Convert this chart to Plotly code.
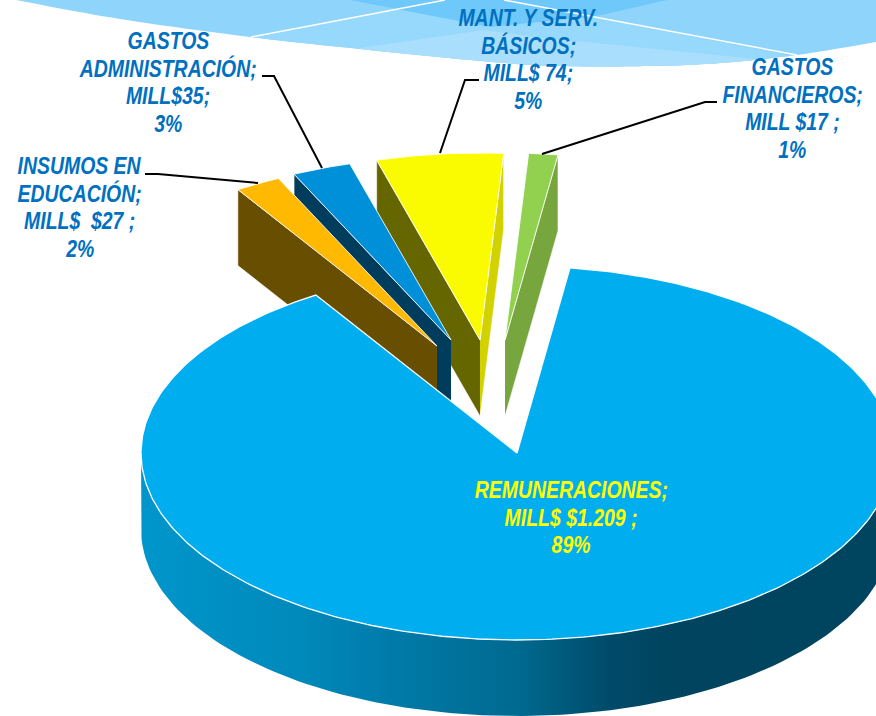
import numpy as np
import plotly.graph_objects as go

# ---------- data ----------
categories = ["REMUNERACIONES", "INSUMOS EN EDUCACIÓN", "GASTOS ADMINISTRACIÓN",
              "MANT. Y SERV. BÁSICOS", "GASTOS FINANCIEROS"]
values = [1209, 27, 35, 74, 17]
label_lines = [
    ["REMUNERACIONES;", "MILL$ $1.209 ;", "89%"],
    ["INSUMOS EN", "EDUCACIÓN;", "MILL$\u00a0 $27 ;", "2%"],
    ["GASTOS", "ADMINISTRACIÓN;", "MILL$35;", "3%"],
    ["MANT. Y SERV.", "BÁSICOS;", "MILL$ 74;", "5%"],
    ["GASTOS", "FINANCIEROS;", "MILL $17 ;", "1%"],
]

# ---------- geometry / style ----------
W, H = 876, 716
CX, CY, RX, RY, DEPTH = 517, 453, 376, 187, 76
START_DEG = 8.1
EXPLODE = [(0, 0), (-80, -107), (-66, -113), (-37, -113), (-12, -113)]
RADIAL = [1, 0.99, 0.98, 1, 1]
TOP = ["#00AEEF", "#FFB900", "#0090DA", "#FBFB00", "#92D050"]
SIDE_L = [None, "#674E00", "#003D5C", "#666600", "#77A63F"]
SIDE_R = [None, "#674E00", "#003D5C", "#D2D200", "#77A63F"]
WALL_SCALE = [[0, "#0096CB"], [0.21, "#0089BB"], [0.35, "#0079A6"], [0.5, "#006A90"],
              [0.62, "#004B6A"], [0.7, "#00445F"], [1, "#00455F"]]
LABEL_POS = [(571, 517), (79.5, 207), (168, 82), (528, 59), (792, 108)]
LABEL_COL = ["#FFFF00", "#0070C0", "#0070C0", "#0070C0", "#0070C0"]
LINE_STEP = 27.5
LEADERS = {1: [(145, 174), (158, 174), (258, 183)],
           2: [(262, 76), (274, 76), (322, 168)],
           3: [(479, 80), (465, 80), (440, 153)],
           4: [(717, 102), (705, 102), (542, 154)]}
FONT = "Liberation Sans, Arial, sans-serif"
TEXT_SQUEEZE = 0.81


def arc(cx, cy, a0, a1, n=120, k=1.0):
    t = np.radians(np.linspace(a0, a1, n))
    return cx + k * RX * np.sin(t), cy - k * RY * np.cos(t)


def smooth(pts, n=14):
    p = np.array([pts[0]] + pts + [pts[-1]], float)
    out = []
    for i in range(1, len(p) - 2):
        for s in np.linspace(0, 1, n, endpoint=False):
            out.append(0.5 * (2 * p[i] + (p[i + 1] - p[i - 1]) * s
                              + (2 * p[i - 1] - 5 * p[i] + 4 * p[i + 1] - p[i + 2]) * s ** 2
                              + (3 * p[i] - p[i - 1] - 3 * p[i + 1] + p[i + 2]) * s ** 3))
    out.append(p[-2])
    return [tuple(q) for q in out]


def poly(pts):
    return "M" + "L".join(f"{x:.1f},{y:.1f}" for x, y in pts) + "Z"


# ---------- slice angles from the values ----------
sweep = 360 * np.array(values) / sum(values)
ends = START_DEG + np.cumsum(sweep)
starts = ends - sweep

fig = go.Figure()


def add_poly(x, y, fill, name, line="rgba(0,0,0,0)", lw=0, **kw):
    fig.add_trace(go.Scatter(x=list(x), y=list(y), mode="lines", fill="toself", fillcolor=fill,
                             line=dict(color=line, width=lw), name=name, hoverinfo="name",
                             showlegend=False, **kw))


# exploded slices, back to front: right-most first
for i in [4, 3, 2, 1]:
    dx, dy = EXPLODE[i]
    k = RADIAL[i]
    ax, ay = CX + dx, CY + dy
    a0, a1 = starts[i] - 360, ends[i] - 360
    ox0, oy0 = arc(ax, ay, a0, a0, 1, k)
    ox1, oy1 = arc(ax, ay, a1, a1, 1, k)
    if a1 > 0:  # clockwise cut faces the viewer
        add_poly([ax, ox1[0], ox1[0], ax], [ay, oy1[0], oy1[0] + DEPTH, ay + DEPTH],
                 SIDE_R[i], categories[i], "rgba(255,255,255,0.7)", 0.8)
    if a0 < 0:  # counter-clockwise cut faces the viewer
        add_poly([ax, ox0[0], ox0[0], ax], [ay, oy0[0], oy0[0] + DEPTH, ay + DEPTH],
                 SIDE_L[i], categories[i], "rgba(255,255,255,0.7)", 0.8)
    xs, ys = arc(ax, ay, a0, a1, 30, k)
    add_poly([ax, *xs, ax], [ay, *ys, ay], TOP[i], categories[i], "rgba(255,255,255,0.85)", 1)

# main slice: rim wall then top
wx0, wy0 = arc(CX, CY, 90, 270)
add_poly(list(wx0) + list(wx0[::-1]), list(wy0) + list(wy0[::-1] + DEPTH), "#0083B0", categories[0],
         fillgradient=dict(type="horizontal", colorscale=WALL_SCALE))
xs, ys = arc(CX, CY, starts[0], ends[0], 400)
add_poly([CX, *xs, CX], [CY, *ys, CY], TOP[0], categories[0], "#FFFFFF", 1.3)

# leader lines
for i, pts in LEADERS.items():
    fig.add_trace(go.Scatter(x=[p[0] for p in pts], y=[p[1] for p in pts], mode="lines",
                             line=dict(color="#000000", width=2), hoverinfo="skip", showlegend=False))

# labels, one annotation per line so the leading can match
for lines, (lx, ly), col in zip(label_lines, LABEL_POS, LABEL_COL):
    for j, text in enumerate(lines):
        fig.add_annotation(x=lx, y=ly + (j - (len(lines) - 1) / 2) * LINE_STEP, xref="x", yref="y",
                           text=text, showarrow=False, align="center", xanchor="center", yanchor="middle",
                           font=dict(family=FONT, size=24, color=col, weight="bold", style="italic"))

# decorative wave across the top of the slide
curve = smooth([(16, 0), (120, 19), (250, 37), (360, 49), (492, 62), (560, 66), (650, 66),
                (720, 63), (797, 55), (876, 42)])
mid_curve = [p for p in curve if 251 <= p[0] <= 796]
band = [p for p in curve if 360 <= p[0] <= 767]
shapes = [
    dict(type="path", path=poly([(16, 0), *curve[1:], (876, 0)]), fillcolor="#8ED4FB", line_width=0, layer="below"),
    dict(type="path", path=poly([(445, 0), (504, 0), *mid_curve[::-1], (251, 37)]), fillcolor="#97D9FC", line_width=0, layer="below"),
    dict(type="path", path=poly([(360, 48), (484, 30), (534, 37), (767, 60), *band[::-1]]), fillcolor="#A9DEFD", line_width=0, layer="below"),
    dict(type="path", path=poly([(350, 0), (490, 27), (597, 16), (667, 0)]), fillcolor="#6FC8FA", line_width=0, layer="below"),
    dict(type="line", x0=251, y0=37, x1=445, y1=0, line=dict(color="#FFFFFF", width=1.5), layer="below"),
    dict(type="line", x0=504, y0=0, x1=797, y1=55, line=dict(color="#FFFFFF", width=1.5), layer="below"),
]

fig.update_layout(
    width=W, height=H, margin=dict(l=0, r=0, t=0, b=0),
    paper_bgcolor="#FFFFFF", plot_bgcolor="#FFFFFF", shapes=shapes, showlegend=False,
    xaxis=dict(range=[0, W], visible=False, fixedrange=True),
    yaxis=dict(range=[H, 0], visible=False, fixedrange=True),
)

# the reference uses a narrow face: squeeze each label line around its own centre
squeeze_js = """
document.body.style.margin='0';
document.querySelectorAll('.annotation-text').forEach(function (t) {
  var b = t.getBBox(), c = b.x + b.width / 2;
  t.setAttribute('transform', 'translate(' + c + ',0) scale(%s,1) translate(' + (-c) + ',0)');
});
""" % TEXT_SQUEEZE
fig.write_html("out.html", post_script=squeeze_js, config={"displayModeBar": False})
